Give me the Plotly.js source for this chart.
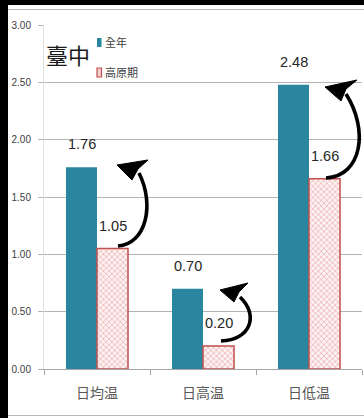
<!DOCTYPE html>
<html>
<head>
<meta charset="utf-8">
<script src="https://cdn.plot.ly/plotly-3.0.1.min.js"></script>
<style>
  html, body { margin:0; padding:0; background:#000; width:364px; height:418px; overflow:hidden; }
  #wrap { position:absolute; left:8px; top:5px; width:356px; height:413px; background:#fff; }
  #chart { position:absolute; left:0; top:0; width:356px; height:413px; }
  #bt { position:absolute; left:0; top:4px; width:356px; height:1px; background:#b8b8b8; }
  #bb { position:absolute; left:0; top:410px; width:356px; height:1px; background:#b8b8b8; }
</style>
</head>
<body>
<div id="wrap"><div id="chart"></div><div id="bt"></div><div id="bb"></div></div>
<script>
// ---- data ----
const categories = ['日均温', '日高温', '日低温'];
const seriesNames = ['全年', '高原期'];
const fullYear = [1.76, 0.70, 2.48];
const plateau = [1.05, 0.20, 1.66];
const yTicks = [0, 0.5, 1, 1.5, 2, 2.5, 3];
const chartTitle = '臺中';

// ---- styles ----
const teal = '#2a859f';
const redLine = '#c0504d';
const num = '"Liberation Sans", Arial, sans-serif';
const cjk = '"Noto Sans CJK TC", "Noto Sans CJK SC", sans-serif';

// plot area in page pixels (for decorative arrows / legend)
const PX0 = 44, PX1 = 362, PY0 = 369, PY1 = 25;
const fx = p => (p - PX0) / (PX1 - PX0);
const fy = p => (PY0 - p) / (PY0 - PY1);
const pt = (x, y) => fx(x).toFixed(4) + ',' + fy(y).toFixed(4);

function arrowShapes(tail, c1, c2, end, tip, w1, notch, w2) {
  return [
    { type:'path', xref:'paper', yref:'paper',
      path: 'M' + pt(...tail) + ' C' + pt(...c1) + ' ' + pt(...c2) + ' ' + pt(...end),
      line:{ color:'#000', width:3.6 }, fillcolor:'rgba(0,0,0,0)' },
    { type:'path', xref:'paper', yref:'paper',
      path: 'M' + pt(...tip) + ' L' + pt(...w1) + ' L' + pt(...notch) + ' L' + pt(...w2) + ' Z',
      line:{ color:'#000', width:1 }, fillcolor:'#000' }
  ];
}

const shapes = [].concat(
  arrowShapes([118,246],[146,244],[155,205],[139,173],[117,165],[148,160],[138,169],[132,180]),
  arrowShapes([221,341],[251,340],[259,315],[240,297],[220,290],[248,283],[239,292],[234,302]),
  arrowShapes([326,178],[362,176],[369,130],[346,94],[325,87],[357,80],[346,89],[341,101]),
  [
    { type:'rect', xref:'paper', yref:'paper', x0:fx(97), x1:fx(101.5), y0:fy(47), y1:fy(38),
      fillcolor:teal, line:{width:0} },
    { type:'rect', xref:'paper', yref:'paper', x0:fx(97), x1:fx(101.5), y0:fy(77), y1:fy(68),
      fillcolor:'#f6d0d0', line:{color:redLine, width:1.2} }
  ]
);

const annotations = [];
fullYear.forEach((v, i) => annotations.push({
  x: categories[i], y: v, xref:'x', yref:'y', text: v.toFixed(2), showarrow:false,
  xshift:-15.5, yshift:23, yanchor:'middle', font:{ family:num, size:14.5, color:'#262626' }
}));
plateau.forEach((v, i) => annotations.push({
  x: categories[i], y: v, xref:'x', yref:'y', text: v.toFixed(2), showarrow:false,
  xshift:15.5, yshift:23, yanchor:'middle', font:{ family:num, size:14.5, color:'#262626' }
}));
annotations.push({ xref:'paper', yref:'paper', x:fx(44), y:fy(54), xanchor:'left', yanchor:'middle',
  text: chartTitle, showarrow:false, font:{ family:cjk, size:22, color:'#1a1a1a' } });
annotations.push({ xref:'paper', yref:'paper', x:fx(102.5), y:fy(42), xanchor:'left', yanchor:'middle',
  text: seriesNames[0], showarrow:false, font:{ family:cjk, size:11, color:'#404040' } });
annotations.push({ xref:'paper', yref:'paper', x:fx(102.5), y:fy(72), xanchor:'left', yanchor:'middle',
  text: seriesNames[1], showarrow:false, font:{ family:cjk, size:11, color:'#404040' } });

const data = [
  { type:'bar', name: seriesNames[0], x: categories, y: fullYear,
    marker:{ color: teal, line:{ width:0 } }, hoverinfo:'none' },
  { type:'bar', name: seriesNames[1], x: categories, y: plateau,
    marker:{ color:'#fbe6e6', line:{ color: redLine, width:1.5 },
      pattern:{ shape:'x', fgcolor:'#eaa7a7', bgcolor:'#fdf2f2', size:4, solidity:0.3, fillmode:'replace' } },
    hoverinfo:'none' }
];

const layout = {
  width:356, height:413,
  margin:{ l: PX0 - 8, r: 356 + 8 - PX1, t: PY1 - 5, b: 413 + 5 - PY0 },
  paper_bgcolor:'#fff', plot_bgcolor:'#fff',
  showlegend:false,
  barmode:'group', bargap:0.415, bargroupgap:0,
  font:{ family: num, color:'#404040' },
  xaxis:{ type:'category', showgrid:false, showline:true, linecolor:'#a6a6a6', linewidth:1,
    ticks:'outside', tickson:'boundaries', ticklen:5, tickcolor:'#a6a6a6',
    ticklabelstandoff:11,
    tickfont:{ family:cjk, size:14, color:'#595959' }, fixedrange:true },
  yaxis:{ range:[0,3], tickvals: yTicks, ticktext: yTicks.map(v => v.toFixed(2)),
    showgrid:true, gridcolor:'#b3b3b3', gridwidth:1, zeroline:false,
    showline:true, linecolor:'#e0e0e0', ticks:'outside', ticklen:5, tickcolor:'#b3b3b3',
    ticklabelstandoff:5,
    tickfont:{ family:num, size:10, color:'#404040' }, fixedrange:true },
  shapes, annotations
};

Plotly.newPlot('chart', data, layout, { displayModeBar:false, staticPlot:true });
</script>
</body>
</html>
